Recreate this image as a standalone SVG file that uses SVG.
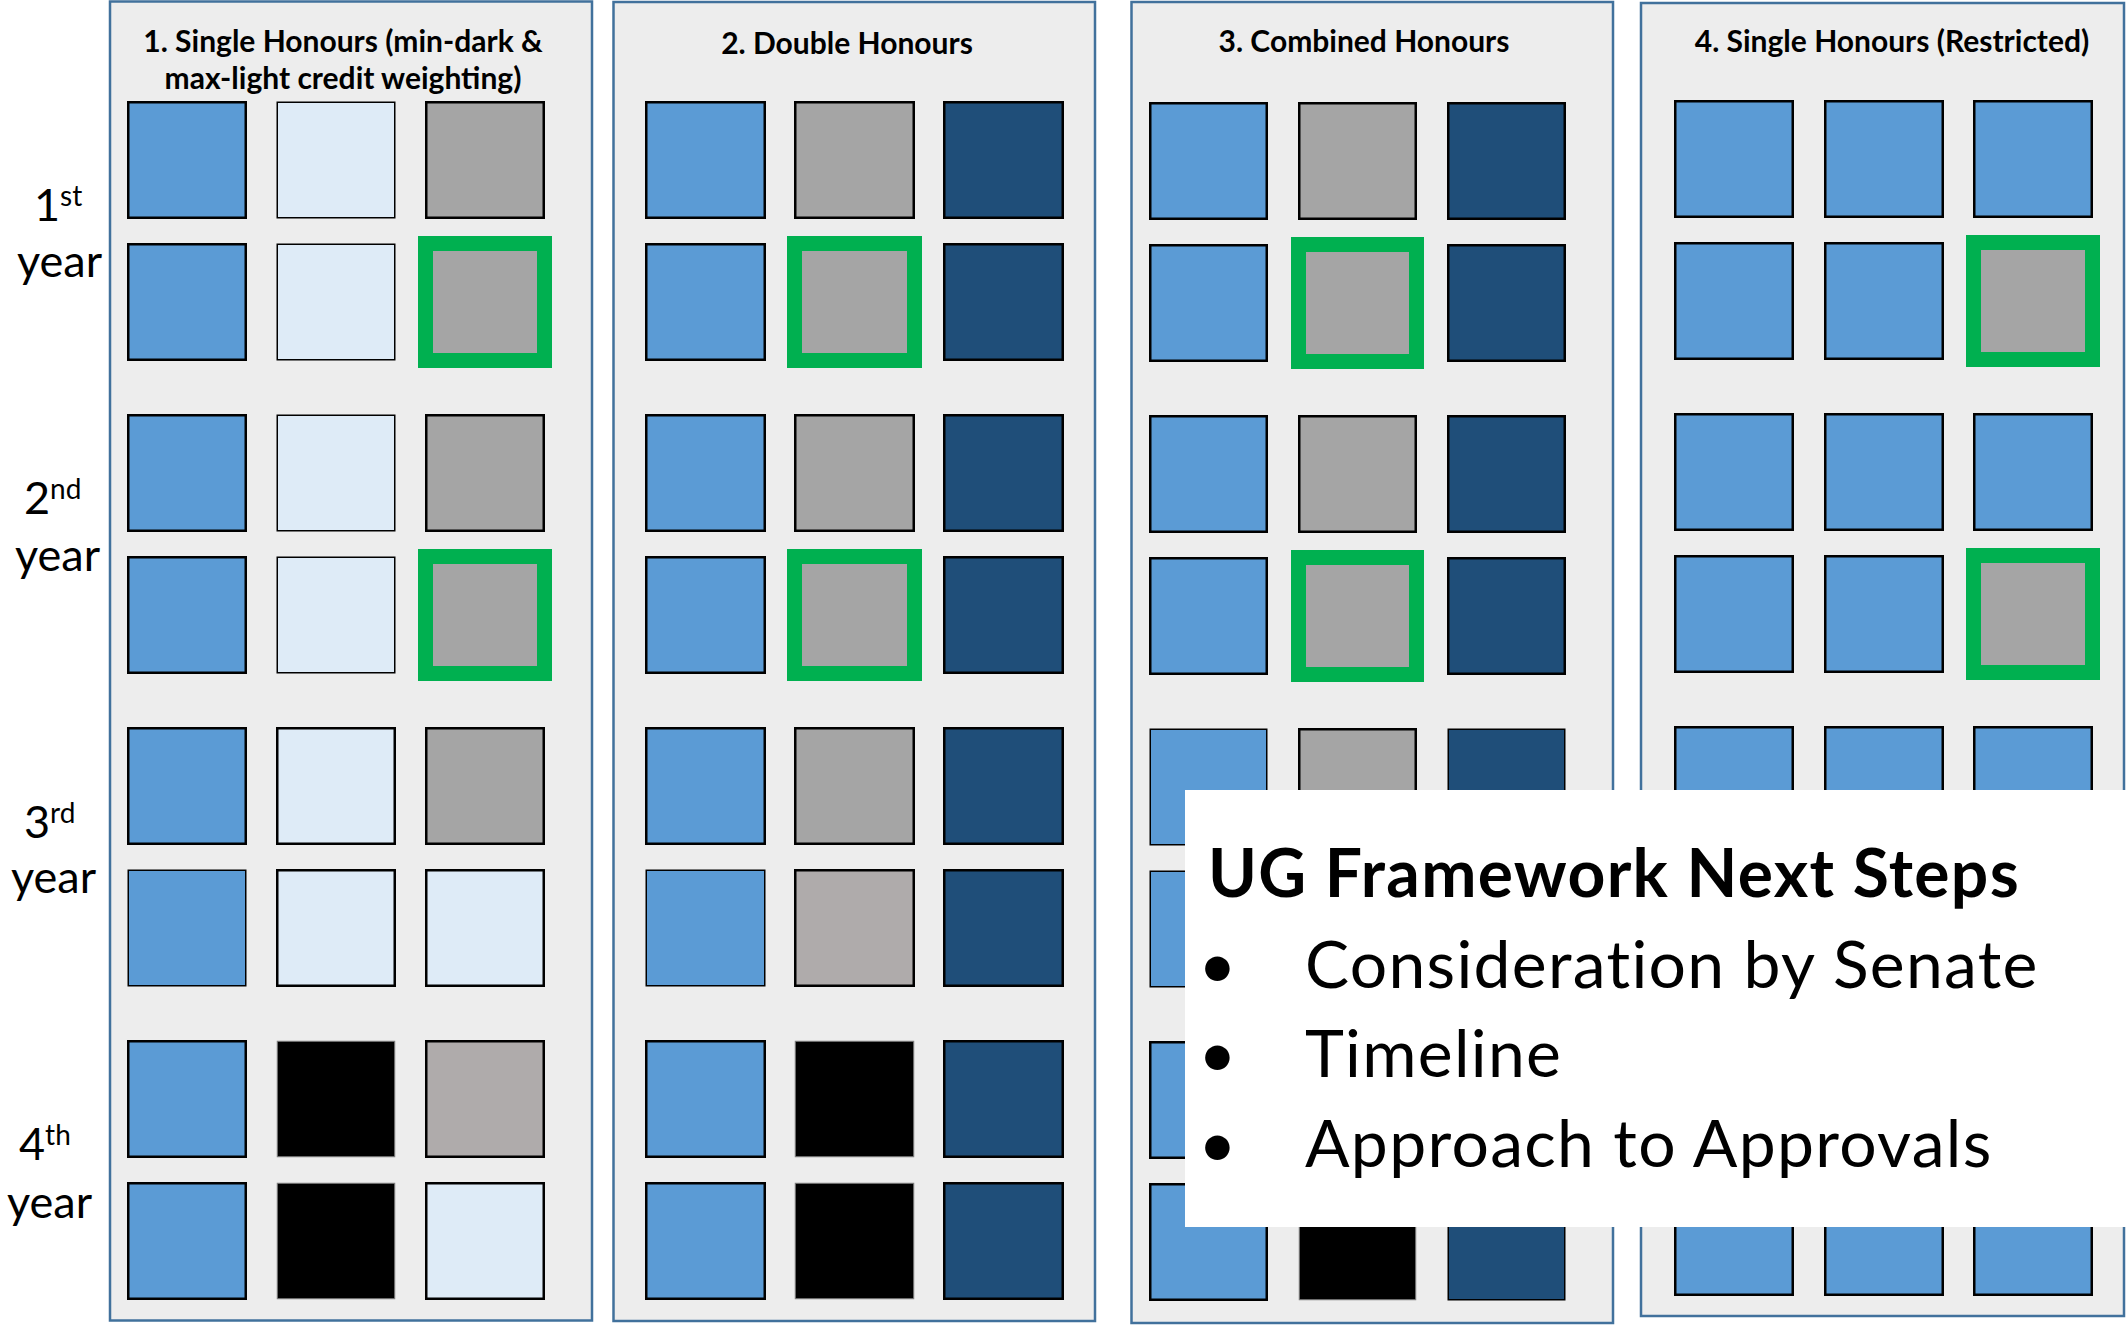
<svg xmlns="http://www.w3.org/2000/svg" width="2126" height="1326" viewBox="0 0 2126 1326">
  <style>
    .panel { fill: #EDEDED; stroke: #41719C; stroke-width: 2.5; }
    .sq { stroke: #000000; stroke-width: 2.5; }
    .thin { stroke-width: 1.5; }
    .blue { fill: #5B9BD5; }
    .light { fill: #DEEBF7; }
    .grey { fill: #A5A5A5; }
    .warm { fill: #AFABAB; }
    .navy { fill: #1F4E79; }
    .black { fill: #000000; stroke: #7F7F7F; stroke-width: 1; }
    .hl { fill: #A5A5A5; stroke: #00B050; stroke-width: 15; }
    .title { font-family: Lato, "Liberation Sans", sans-serif; font-weight: bold; font-size: 30px; fill: #000; text-anchor: middle; }
    .yr { font-family: Lato, "Liberation Sans", sans-serif; font-size: 45px; fill: #000; }
    .sup { font-size: 28px; }
    .big { font-family: Lato, "Liberation Sans", sans-serif; font-size: 66px; letter-spacing: 1.3px; fill: #000; }
  </style>

  <rect width="2126" height="1326" fill="#FFFFFF"/>

  <!-- year labels down the left margin -->
  <g id="year-labels">
    <text class="yr" x="34" y="221">1<tspan class="sup" dy="-15">st</tspan></text>
    <text class="yr" x="17" y="277">year</text>
    <text class="yr" x="24" y="514">2<tspan class="sup" dy="-15">nd</tspan></text>
    <text class="yr" x="15" y="571">year</text>
    <text class="yr" x="24" y="838">3<tspan class="sup" dy="-15">rd</tspan></text>
    <text class="yr" x="11" y="893">year</text>
    <text class="yr" x="19" y="1160">4<tspan class="sup" dy="-15">th</tspan></text>
    <text class="yr" x="7" y="1218">year</text>
  </g>

  <!-- 1. Single Honours (min-dark & max-light) -->
  <g id="panel-1">
    <rect class="panel" x="110" y="1.5" width="482" height="1319"/>
    <text class="title" x="343" y="52">1. Single Honours (min-dark &amp;</text>
    <text class="title" x="343" y="89">max-light credit weighting)</text>
    <g transform="translate(127,101)">
      <rect class="sq blue" x="1.25" y="1.25" width="117.5" height="115.5"/>
      <rect class="sq light thin" x="150.25" y="1.25" width="117.5" height="115.5"/>
      <rect class="sq grey" x="299.25" y="1.25" width="117.5" height="115.5"/>
      <rect class="sq blue" x="1.25" y="143.25" width="117.5" height="115.5"/>
      <rect class="sq light thin" x="150.25" y="143.25" width="117.5" height="115.5"/>
      <rect class="hl" x="298.5" y="142.5" width="119" height="117"/>

      <rect class="sq blue" x="1.25" y="314.25" width="117.5" height="115.5"/>
      <rect class="sq light thin" x="150.25" y="314.25" width="117.5" height="115.5"/>
      <rect class="sq grey" x="299.25" y="314.25" width="117.5" height="115.5"/>
      <rect class="sq blue" x="1.25" y="456.25" width="117.5" height="115.5"/>
      <rect class="sq light thin" x="150.25" y="456.25" width="117.5" height="115.5"/>
      <rect class="hl" x="298.5" y="455.5" width="119" height="117"/>

      <rect class="sq blue" x="1.25" y="627.25" width="117.5" height="115.5"/>
      <rect class="sq light" x="150.25" y="627.25" width="117.5" height="115.5"/>
      <rect class="sq grey" x="299.25" y="627.25" width="117.5" height="115.5"/>
      <rect class="sq blue thin" x="1.25" y="769.25" width="117.5" height="115.5"/>
      <rect class="sq light" x="150.25" y="769.25" width="117.5" height="115.5"/>
      <rect class="sq light" x="299.25" y="769.25" width="117.5" height="115.5"/>

      <rect class="sq blue" x="1.25" y="940.25" width="117.5" height="115.5"/>
      <rect class="black" x="150.25" y="940.25" width="117.5" height="115.5"/>
      <rect class="sq warm" x="299.25" y="940.25" width="117.5" height="115.5"/>
      <rect class="sq blue" x="1.25" y="1082.25" width="117.5" height="115.5"/>
      <rect class="black" x="150.25" y="1082.25" width="117.5" height="115.5"/>
      <rect class="sq light" x="299.25" y="1082.25" width="117.5" height="115.5"/>
    </g>
  </g>

  <!-- 2. Double Honours -->
  <g id="panel-2">
    <rect class="panel" x="613.5" y="2" width="481.5" height="1319"/>
    <text class="title" x="847" y="54">2. Double Honours</text>
    <g transform="translate(645,101)">
      <rect class="sq blue" x="1.25" y="1.25" width="118.5" height="115.5"/>
      <rect class="sq grey" x="150.25" y="1.25" width="118.5" height="115.5"/>
      <rect class="sq navy" x="299.25" y="1.25" width="118.5" height="115.5"/>
      <rect class="sq blue" x="1.25" y="143.25" width="118.5" height="115.5"/>
      <rect class="hl" x="149.5" y="142.5" width="120" height="117"/>
      <rect class="sq navy" x="299.25" y="143.25" width="118.5" height="115.5"/>

      <rect class="sq blue" x="1.25" y="314.25" width="118.5" height="115.5"/>
      <rect class="sq grey" x="150.25" y="314.25" width="118.5" height="115.5"/>
      <rect class="sq navy" x="299.25" y="314.25" width="118.5" height="115.5"/>
      <rect class="sq blue" x="1.25" y="456.25" width="118.5" height="115.5"/>
      <rect class="hl" x="149.5" y="455.5" width="120" height="117"/>
      <rect class="sq navy" x="299.25" y="456.25" width="118.5" height="115.5"/>

      <rect class="sq blue" x="1.25" y="627.25" width="118.5" height="115.5"/>
      <rect class="sq grey" x="150.25" y="627.25" width="118.5" height="115.5"/>
      <rect class="sq navy" x="299.25" y="627.25" width="118.5" height="115.5"/>
      <rect class="sq blue thin" x="1.25" y="769.25" width="118.5" height="115.5"/>
      <rect class="sq warm" x="150.25" y="769.25" width="118.5" height="115.5"/>
      <rect class="sq navy" x="299.25" y="769.25" width="118.5" height="115.5"/>

      <rect class="sq blue" x="1.25" y="940.25" width="118.5" height="115.5"/>
      <rect class="black" x="150.25" y="940.25" width="118.5" height="115.5"/>
      <rect class="sq navy" x="299.25" y="940.25" width="118.5" height="115.5"/>
      <rect class="sq blue" x="1.25" y="1082.25" width="118.5" height="115.5"/>
      <rect class="black" x="150.25" y="1082.25" width="118.5" height="115.5"/>
      <rect class="sq navy" x="299.25" y="1082.25" width="118.5" height="115.5"/>
    </g>
  </g>

  <!-- 3. Combined Honours -->
  <g id="panel-3">
    <rect class="panel" x="1131.5" y="2" width="481.5" height="1321"/>
    <text class="title" x="1364" y="52">3. Combined Honours</text>
    <g transform="translate(1149,102)">
      <rect class="sq blue" x="1.25" y="1.25" width="116.5" height="115.5"/>
      <rect class="sq grey" x="150.25" y="1.25" width="116.5" height="115.5"/>
      <rect class="sq navy" x="299.25" y="1.25" width="116.5" height="115.5"/>
      <rect class="sq blue" x="1.25" y="143.25" width="116.5" height="115.5"/>
      <rect class="hl" x="149.5" y="142.5" width="118" height="117"/>
      <rect class="sq navy" x="299.25" y="143.25" width="116.5" height="115.5"/>

      <rect class="sq blue" x="1.25" y="314.25" width="116.5" height="115.5"/>
      <rect class="sq grey" x="150.25" y="314.25" width="116.5" height="115.5"/>
      <rect class="sq navy" x="299.25" y="314.25" width="116.5" height="115.5"/>
      <rect class="sq blue" x="1.25" y="456.25" width="116.5" height="115.5"/>
      <rect class="hl" x="149.5" y="455.5" width="118" height="117"/>
      <rect class="sq navy" x="299.25" y="456.25" width="116.5" height="115.5"/>

      <rect class="sq blue thin" x="1.25" y="627.25" width="116.5" height="115.5"/>
      <rect class="sq grey" x="150.25" y="627.25" width="116.5" height="115.5"/>
      <rect class="sq navy thin" x="299.25" y="627.25" width="116.5" height="115.5"/>
      <rect class="sq blue thin" x="1.25" y="769.25" width="116.5" height="115.5"/>
      <rect class="sq grey" x="150.25" y="769.25" width="116.5" height="115.5"/>
      <rect class="sq navy" x="299.25" y="769.25" width="116.5" height="115.5"/>

      <rect class="sq blue" x="1.25" y="940.25" width="116.5" height="115.5"/>
      <rect class="black" x="150.25" y="940.25" width="116.5" height="115.5"/>
      <rect class="sq navy" x="299.25" y="940.25" width="116.5" height="115.5"/>
      <rect class="sq blue" x="1.25" y="1082.25" width="116.5" height="115.5"/>
      <rect class="black" x="150.25" y="1082.25" width="116.5" height="115.5"/>
      <rect class="sq navy thin" x="299.25" y="1082.25" width="116.5" height="115.5"/>
    </g>
  </g>

  <!-- 4. Single Honours (Restricted) -->
  <g id="panel-4">
    <rect class="panel" x="1641" y="3" width="483" height="1313"/>
    <text class="title" x="1892" y="52">4. Single Honours (Restricted)</text>
    <g transform="translate(1674,100)">
      <rect class="sq blue" x="1.25" y="1.25" width="117.5" height="115.5"/>
      <rect class="sq blue" x="151.25" y="1.25" width="117.5" height="115.5"/>
      <rect class="sq blue" x="300.25" y="1.25" width="117.5" height="115.5"/>
      <rect class="sq blue" x="1.25" y="143.25" width="117.5" height="115.5"/>
      <rect class="sq blue" x="151.25" y="143.25" width="117.5" height="115.5"/>
      <rect class="hl" x="299.5" y="142.5" width="119" height="117"/>

      <rect class="sq blue" x="1.25" y="314.25" width="117.5" height="115.5"/>
      <rect class="sq blue" x="151.25" y="314.25" width="117.5" height="115.5"/>
      <rect class="sq blue" x="300.25" y="314.25" width="117.5" height="115.5"/>
      <rect class="sq blue" x="1.25" y="456.25" width="117.5" height="115.5"/>
      <rect class="sq blue" x="151.25" y="456.25" width="117.5" height="115.5"/>
      <rect class="hl" x="299.5" y="455.5" width="119" height="117"/>

      <rect class="sq blue" x="1.25" y="627.25" width="117.5" height="115.5"/>
      <rect class="sq blue" x="151.25" y="627.25" width="117.5" height="115.5"/>
      <rect class="sq blue" x="300.25" y="627.25" width="117.5" height="115.5"/>
      <rect class="sq blue" x="1.25" y="769.25" width="117.5" height="115.5"/>
      <rect class="sq blue" x="151.25" y="769.25" width="117.5" height="115.5"/>
      <rect class="sq blue" x="300.25" y="769.25" width="117.5" height="115.5"/>

      <rect class="sq blue" x="1.25" y="940.25" width="117.5" height="115.5"/>
      <rect class="sq blue" x="151.25" y="940.25" width="117.5" height="115.5"/>
      <rect class="sq blue" x="300.25" y="940.25" width="117.5" height="115.5"/>
      <rect class="sq blue" x="1.25" y="1079.25" width="117.5" height="115.5"/>
      <rect class="sq blue" x="151.25" y="1079.25" width="117.5" height="115.5"/>
      <rect class="sq blue" x="300.25" y="1079.25" width="117.5" height="115.5"/>
    </g>
  </g>

  <!-- next-steps call-out laid over the lower right -->
  <g id="next-steps">
    <rect x="1185" y="790" width="941" height="437" fill="#FFFFFF"/>
    <text class="big" x="1208" y="897" font-weight="bold">UG Framework Next Steps</text>
    <text class="big" x="1218" y="988" text-anchor="middle">•</text>
    <text class="big" x="1305" y="988">Consideration by Senate</text>
    <text class="big" x="1218" y="1077" text-anchor="middle">•</text>
    <text class="big" x="1305" y="1077">Timeline</text>
    <text class="big" x="1218" y="1167" text-anchor="middle">•</text>
    <text class="big" x="1305" y="1167">Approach to Approvals</text>
  </g>
</svg>
